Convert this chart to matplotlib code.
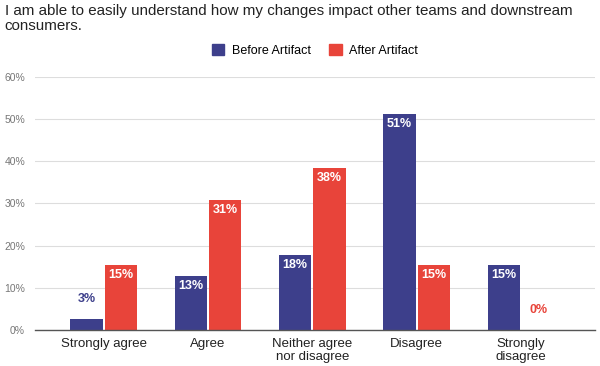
import matplotlib.pyplot as plt
import numpy as np
from matplotlib.patches import Patch

plt.rcParams['font.family'] = ['Liberation Sans', 'DejaVu Sans']

categories = ["Strongly agree", "Agree", "Neither agree\nnor disagree", "Disagree", "Strongly\ndisagree"]
before = [2.6, 12.8, 17.9, 51.3, 15.4]
after = [15.4, 30.8, 38.5, 15.4, 0.0]
before_labels = ["3%", "13%", "18%", "51%", "15%"]
after_labels = ["15%", "31%", "38%", "15%", "0%"]
yticks = [0, 10, 20, 30, 40, 50, 60]

blue = "#3d3f8b"
red = "#e8443a"

fig = plt.figure(figsize=(6, 3.66), dpi=100)
ax = fig.add_axes([0.058, 0.098, 0.934, 0.692])

x = np.arange(len(categories))
w = 0.31
ax.bar(x - w/2 - 0.01, before, w, color=blue, zorder=3)
ax.bar(x + w/2 + 0.01, after, w, color=red, zorder=3)

# value labels: inside for tall bars, above for short ones
for xs, vals, labs, col in [(x - w/2 - 0.01, before, before_labels, blue),
                            (x + w/2 + 0.01, after, after_labels, red)]:
    for xi, v, lab in zip(xs, vals, labs):
        if v > 8:
            ax.text(xi, v - 1.0, lab, ha="center", va="top", color="white",
                    fontsize=9, fontweight="bold", zorder=4)
        else:
            ax.text(xi, v + 3.3, lab, ha="center", va="bottom", color=col,
                    fontsize=9, fontweight="bold", zorder=4)

ax.set_xlim(-0.66, 4.71)
ax.set_ylim(0, 60)
ax.set_yticks(yticks)
ax.set_yticklabels([f"{t}%" for t in yticks], fontsize=7.5, color="#777777")
ax.set_xticks(x)
ax.set_xticklabels(categories, fontsize=9.5, color="#222222", linespacing=1.1)
ax.tick_params(axis="both", length=0)
ax.tick_params(axis="x", pad=6)
ax.tick_params(axis="y", pad=7)
ax.grid(axis="y", color="#dddddd", linewidth=0.8, zorder=0)
for s in ["top", "right", "left"]:
    ax.spines[s].set_visible(False)
ax.spines["bottom"].set_color("#555555")
ax.spines["bottom"].set_linewidth(1.0)
ax.spines["bottom"].set_zorder(5)

fig.text(0.008, 0.99, "I am able to easily understand how my changes impact other teams and downstream\nconsumers.",
         ha="left", va="top", fontsize=10.9, color="#222222", linespacing=1.15)

handles = [Patch(color=blue, label="Before Artifact"), Patch(color=red, label="After Artifact")]
fig.legend(handles=handles, loc="center", bbox_to_anchor=(0.525, 0.862), ncol=2, frameon=False,
           fontsize=9, handlelength=1.0, handleheight=1.0, columnspacing=1.5, handletextpad=0.6)

fig.savefig("out.png", dpi=100)
